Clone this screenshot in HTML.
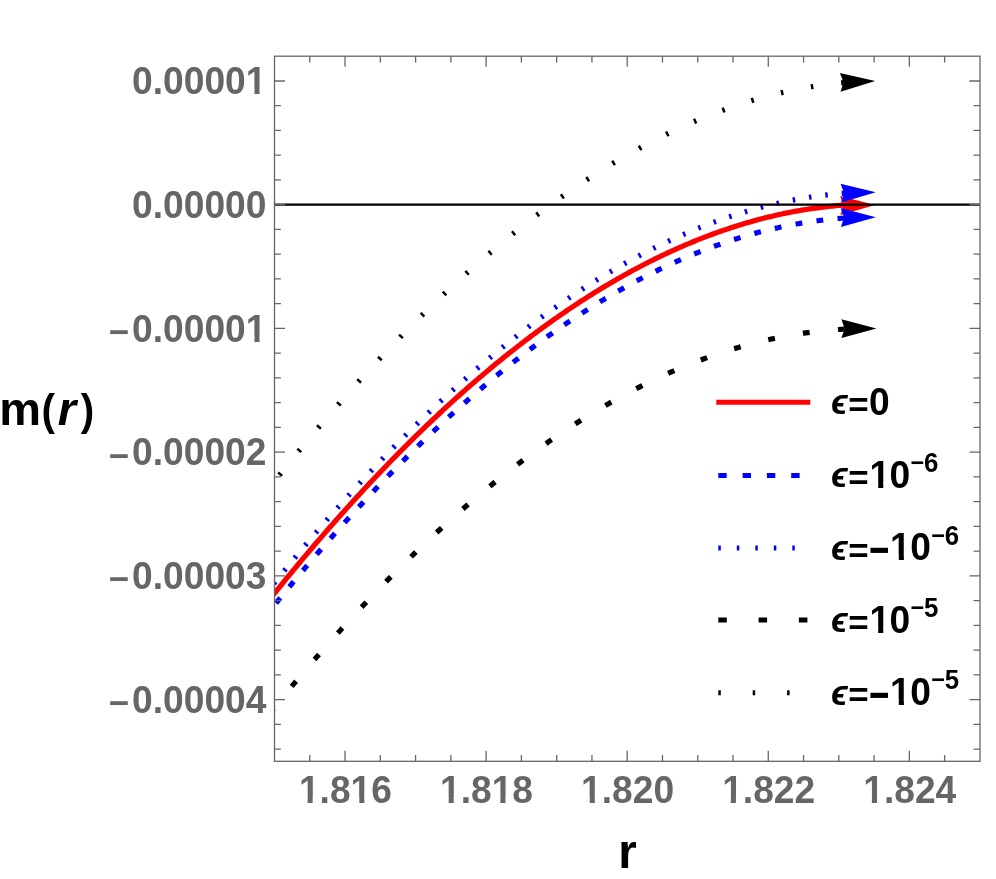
<!DOCTYPE html>
<html><head><meta charset="utf-8"><title>plot</title>
<style>html,body{margin:0;padding:0;background:#fff}body{width:996px;height:879px;overflow:hidden;font-family:"Liberation Sans",sans-serif}</style></head>
<body>
<svg width="996" height="879" viewBox="0 0 996 879" style="display:block;will-change:transform;font-family:'Liberation Sans',sans-serif;font-weight:bold;font-kerning:none">
<rect width="996" height="879" fill="#fff"/>
<defs><clipPath id="c"><rect x="274.5" y="56.2" width="705.5" height="705.0999999999999"/></clipPath></defs>
<g clip-path="url(#c)" fill="none" stroke-width="5.2">
<path d="M272.50,595.80 L274.42,593.41 L276.34,591.03 L278.25,588.65 L280.17,586.29 L282.09,583.92 L284.01,581.57 L285.93,579.22 L287.84,576.88 L289.76,574.54 L291.68,572.22 L293.60,569.89 L295.52,567.58 L297.43,565.27 L299.35,562.97 L301.27,560.67 L303.19,558.39 L305.11,556.11 L307.03,553.83 L308.94,551.56 L310.86,549.30 L312.78,547.05 L314.70,544.80 L316.62,542.56 L318.53,540.32 L320.45,538.10 L322.37,535.88 L324.29,533.66 L326.21,531.46 L328.12,529.26 L330.04,527.06 L331.96,524.88 L333.88,522.70 L335.80,520.52 L337.71,518.36 L339.63,516.20 L341.55,514.05 L343.47,511.90 L345.39,509.76 L347.30,507.63 L349.22,505.51 L351.14,503.39 L353.06,501.28 L354.98,499.17 L356.89,497.08 L358.81,494.99 L360.73,492.90 L362.65,490.83 L364.57,488.76 L366.48,486.70 L368.40,484.64 L370.32,482.59 L372.24,480.55 L374.16,478.51 L376.08,476.49 L377.99,474.47 L379.91,472.45 L381.83,470.45 L383.75,468.45 L385.67,466.45 L387.58,464.47 L389.50,462.49 L391.42,460.52 L393.34,458.55 L395.26,456.59 L397.17,454.64 L399.09,452.70 L401.01,450.76 L402.93,448.83 L404.85,446.91 L406.76,444.99 L408.68,443.09 L410.60,441.18 L412.52,439.29 L414.44,437.40 L416.35,435.52 L418.27,433.65 L420.19,431.78 L422.11,429.92 L424.03,428.07 L425.94,426.23 L427.86,424.39 L429.78,422.56 L431.70,420.74 L433.62,418.92 L435.54,417.11 L437.45,415.31 L439.37,413.52 L441.29,411.73 L443.21,409.95 L445.13,408.18 L447.04,406.41 L448.96,404.65 L450.88,402.90 L452.80,401.16 L454.72,399.42 L456.63,397.69 L458.55,395.97 L460.47,394.25 L462.39,392.54 L464.31,390.84 L466.22,389.15 L468.14,387.46 L470.06,385.78 L471.98,384.11 L473.90,382.45 L475.81,380.79 L477.73,379.14 L479.65,377.50 L481.57,375.86 L483.49,374.24 L485.40,372.62 L487.32,371.00 L489.24,369.40 L491.16,367.80 L493.08,366.21 L494.99,364.62 L496.91,363.05 L498.83,361.48 L500.75,359.92 L502.67,358.36 L504.59,356.81 L506.50,355.27 L508.42,353.74 L510.34,352.22 L512.26,350.70 L514.18,349.19 L516.09,347.69 L518.01,346.19 L519.93,344.70 L521.85,343.22 L523.77,341.75 L525.68,340.28 L527.60,338.83 L529.52,337.38 L531.44,335.93 L533.36,334.50 L535.27,333.07 L537.19,331.65 L539.11,330.24 L541.03,328.83 L542.95,327.43 L544.86,326.04 L546.78,324.66 L548.70,323.28 L550.62,321.91 L552.54,320.55 L554.45,319.20 L556.37,317.85 L558.29,316.52 L560.21,315.19 L562.13,313.86 L564.05,312.55 L565.96,311.24 L567.88,309.94 L569.80,308.65 L571.72,307.36 L573.64,306.09 L575.55,304.82 L577.47,303.55 L579.39,302.30 L581.31,301.05 L583.23,299.81 L585.14,298.58 L587.06,297.36 L588.98,296.14 L590.90,294.93 L592.82,293.73 L594.73,292.54 L596.65,291.35 L598.57,290.18 L600.49,289.01 L602.41,287.84 L604.32,286.69 L606.24,285.54 L608.16,284.40 L610.08,283.27 L612.00,282.15 L613.91,281.03 L615.83,279.92 L617.75,278.82 L619.67,277.73 L621.59,276.64 L623.51,275.57 L625.42,274.50 L627.34,273.43 L629.26,272.38 L631.18,271.33 L633.10,270.30 L635.01,269.26 L636.93,268.24 L638.85,267.23 L640.77,266.22 L642.69,265.22 L644.60,264.23 L646.52,263.24 L648.44,262.27 L650.36,261.30 L652.28,260.34 L654.19,259.39 L656.11,258.44 L658.03,257.51 L659.95,256.58 L661.87,255.66 L663.78,254.74 L665.70,253.84 L667.62,252.94 L669.54,252.05 L671.46,251.17 L673.37,250.30 L675.29,249.43 L677.21,248.58 L679.13,247.73 L681.05,246.88 L682.96,246.05 L684.88,245.22 L686.80,244.41 L688.72,243.60 L690.64,242.80 L692.56,242.00 L694.47,241.22 L696.39,240.44 L698.31,239.67 L700.23,238.91 L702.15,238.15 L704.06,237.41 L705.98,236.67 L707.90,235.94 L709.82,235.22 L711.74,234.50 L713.65,233.80 L715.57,233.10 L717.49,232.41 L719.41,231.73 L721.33,231.06 L723.24,230.39 L725.16,229.74 L727.08,229.09 L729.00,228.45 L730.92,227.81 L732.83,227.19 L734.75,226.57 L736.67,225.96 L738.59,225.36 L740.51,224.77 L742.42,224.19 L744.34,223.61 L746.26,223.04 L748.18,222.48 L750.10,221.93 L752.02,221.39 L753.93,220.85 L755.85,220.33 L757.77,219.81 L759.69,219.30 L761.61,218.80 L763.52,218.30 L765.44,217.82 L767.36,217.34 L769.28,216.87 L771.20,216.41 L773.11,215.96 L775.03,215.51 L776.95,215.08 L778.87,214.65 L780.79,214.23 L782.70,213.82 L784.62,213.41 L786.54,213.02 L788.46,212.63 L790.38,212.25 L792.29,211.88 L794.21,211.52 L796.13,211.17 L798.05,210.82 L799.97,210.49 L801.88,210.16 L803.80,209.84 L805.72,209.53 L807.64,209.22 L809.56,208.93 L811.47,208.64 L813.39,208.37 L815.31,208.10 L817.23,207.83 L819.15,207.58 L821.07,207.34 L822.98,207.10 L824.90,206.87 L826.82,206.65 L828.74,206.44 L830.66,206.24 L832.57,206.05 L834.49,205.86 L836.41,205.68 L838.33,205.52 L840.25,205.36 L842.16,205.20 L844.08,205.06 L846.00,204.93" stroke="#f00"/>
<path d="M272.50,607.49 L274.42,605.11 L276.34,602.74 L278.25,600.37 L280.17,598.01 L282.09,595.66 L284.01,593.31 L285.93,590.97 L287.84,588.64 L289.76,586.31 L291.68,583.99 L293.60,581.68 L295.52,579.37 L297.43,577.07 L299.35,574.78 L301.27,572.49 L303.19,570.21 L305.11,567.94 L307.03,565.67 L308.94,563.41 L310.86,561.16 L312.78,558.91 L314.70,556.67 L316.62,554.44 L318.53,552.21 L320.45,549.99 L322.37,547.78 L324.29,545.57 L326.21,543.37 L328.12,541.18 L330.04,538.99 L331.96,536.81 L333.88,534.64 L335.80,532.48 L337.71,530.32 L339.63,528.16 L341.55,526.02 L343.47,523.88 L345.39,521.75 L347.30,519.62 L349.22,517.50 L351.14,515.39 L353.06,513.29 L354.98,511.19 L356.89,509.10 L358.81,507.02 L360.73,504.94 L362.65,502.87 L364.57,500.81 L366.48,498.75 L368.40,496.70 L370.32,494.66 L372.24,492.62 L374.16,490.59 L376.08,488.57 L377.99,486.55 L379.91,484.55 L381.83,482.55 L383.75,480.55 L385.67,478.56 L387.58,476.58 L389.50,474.61 L391.42,472.64 L393.34,470.68 L395.26,468.73 L397.17,466.79 L399.09,464.85 L401.01,462.92 L402.93,460.99 L404.85,459.07 L406.76,457.16 L408.68,455.26 L410.60,453.36 L412.52,451.47 L414.44,449.59 L416.35,447.72 L418.27,445.85 L420.19,443.99 L422.11,442.13 L424.03,440.29 L425.94,438.45 L427.86,436.61 L429.78,434.79 L431.70,432.97 L433.62,431.16 L435.54,429.35 L437.45,427.56 L439.37,425.77 L441.29,423.98 L443.21,422.21 L445.13,420.44 L447.04,418.68 L448.96,416.92 L450.88,415.17 L452.80,413.43 L454.72,411.70 L456.63,409.98 L458.55,408.26 L460.47,406.55 L462.39,404.84 L464.31,403.15 L466.22,401.46 L468.14,399.77 L470.06,398.10 L471.98,396.43 L473.90,394.77 L475.81,393.12 L477.73,391.47 L479.65,389.83 L481.57,388.20 L483.49,386.58 L485.40,384.96 L487.32,383.35 L489.24,381.75 L491.16,380.15 L493.08,378.56 L494.99,376.98 L496.91,375.41 L498.83,373.85 L500.75,372.29 L502.67,370.74 L504.59,369.19 L506.50,367.66 L508.42,366.13 L510.34,364.61 L512.26,363.09 L514.18,361.58 L516.09,360.08 L518.01,358.59 L519.93,357.11 L521.85,355.63 L523.77,354.16 L525.68,352.70 L527.60,351.24 L529.52,349.80 L531.44,348.36 L533.36,346.92 L535.27,345.50 L537.19,344.08 L539.11,342.67 L541.03,341.27 L542.95,339.87 L544.86,338.49 L546.78,337.11 L548.70,335.73 L550.62,334.37 L552.54,333.01 L554.45,331.66 L556.37,330.32 L558.29,328.98 L560.21,327.66 L562.13,326.34 L564.05,325.02 L565.96,323.72 L567.88,322.42 L569.80,321.13 L571.72,319.85 L573.64,318.57 L575.55,317.31 L577.47,316.05 L579.39,314.80 L581.31,313.55 L583.23,312.32 L585.14,311.09 L587.06,309.87 L588.98,308.65 L590.90,307.45 L592.82,306.25 L594.73,305.06 L596.65,303.88 L598.57,302.70 L600.49,301.53 L602.41,300.37 L604.32,299.22 L606.24,298.08 L608.16,296.94 L610.08,295.81 L612.00,294.69 L613.91,293.58 L615.83,292.47 L617.75,291.38 L619.67,290.28 L621.59,289.20 L623.51,288.13 L625.42,287.06 L627.34,286.00 L629.26,284.95 L631.18,283.91 L633.10,282.87 L635.01,281.84 L636.93,280.82 L638.85,279.81 L640.77,278.81 L642.69,277.81 L644.60,276.82 L646.52,275.84 L648.44,274.87 L650.36,273.90 L652.28,272.95 L654.19,272.00 L656.11,271.05 L658.03,270.12 L659.95,269.20 L661.87,268.28 L663.78,267.37 L665.70,266.47 L667.62,265.57 L669.54,264.69 L671.46,263.81 L673.37,262.94 L675.29,262.07 L677.21,261.22 L679.13,260.37 L681.05,259.53 L682.96,258.70 L684.88,257.88 L686.80,257.07 L688.72,256.26 L690.64,255.46 L692.56,254.67 L694.47,253.89 L696.39,253.11 L698.31,252.35 L700.23,251.59 L702.15,250.84 L704.06,250.10 L705.98,249.36 L707.90,248.64 L709.82,247.92 L711.74,247.21 L713.65,246.51 L715.57,245.81 L717.49,245.13 L719.41,244.45 L721.33,243.78 L723.24,243.12 L725.16,242.46 L727.08,241.82 L729.00,241.18 L730.92,240.55 L732.83,239.93 L734.75,239.32 L736.67,238.71 L738.59,238.12 L740.51,237.53 L742.42,236.95 L744.34,236.38 L746.26,235.81 L748.18,235.26 L750.10,234.71 L752.02,234.17 L753.93,233.64 L755.85,233.12 L757.77,232.60 L759.69,232.10 L761.61,231.60 L763.52,231.11 L765.44,230.63 L767.36,230.16 L769.28,229.69 L771.20,229.23 L773.11,228.79 L775.03,228.35 L776.95,227.91 L778.87,227.49 L780.79,227.08 L782.70,226.67 L784.62,226.27 L786.54,225.88 L788.46,225.50 L790.38,225.12 L792.29,224.76 L794.21,224.40 L796.13,224.05 L798.05,223.71 L799.97,223.38 L801.88,223.06 L803.80,222.74 L805.72,222.44 L807.64,222.14 L809.56,221.85 L811.47,221.57 L813.39,221.30 L815.31,221.03 L817.23,220.78 L819.15,220.53 L821.07,220.29 L822.98,220.06 L824.90,219.84 L826.82,219.62 L828.74,219.42 L830.66,219.22 L832.57,219.03 L834.49,218.85 L836.41,218.68 L838.33,218.52 L840.25,218.37 L842.16,218.22 L844.08,218.08 L846.00,217.95" stroke="#00f" stroke-dasharray="6.8 14.370" stroke-dashoffset="15.646"/>
<path d="M272.50,585.31 L274.42,582.91 L276.34,580.52 L278.25,578.14 L280.17,575.76 L282.09,573.39 L284.01,571.03 L285.93,568.67 L287.84,566.32 L289.76,563.98 L291.68,561.64 L293.60,559.31 L295.52,556.99 L297.43,554.67 L299.35,552.36 L301.27,550.06 L303.19,547.76 L305.11,545.47 L307.03,543.19 L308.94,540.91 L310.86,538.65 L312.78,536.38 L314.70,534.13 L316.62,531.88 L318.53,529.64 L320.45,527.40 L322.37,525.18 L324.29,522.96 L326.21,520.74 L328.12,518.53 L330.04,516.33 L331.96,514.14 L333.88,511.95 L335.80,509.77 L337.71,507.60 L339.63,505.44 L341.55,503.28 L343.47,501.12 L345.39,498.98 L347.30,496.84 L349.22,494.71 L351.14,492.59 L353.06,490.47 L354.98,488.36 L356.89,486.25 L358.81,484.16 L360.73,482.07 L362.65,479.99 L364.57,477.91 L366.48,475.84 L368.40,473.78 L370.32,471.73 L372.24,469.68 L374.16,467.64 L376.08,465.60 L377.99,463.58 L379.91,461.56 L381.83,459.54 L383.75,457.54 L385.67,455.54 L387.58,453.55 L389.50,451.57 L391.42,449.59 L393.34,447.62 L395.26,445.65 L397.17,443.70 L399.09,441.75 L401.01,439.81 L402.93,437.87 L404.85,435.95 L406.76,434.02 L408.68,432.11 L410.60,430.21 L412.52,428.31 L414.44,426.41 L416.35,424.53 L418.27,422.65 L420.19,420.78 L422.11,418.92 L424.03,417.06 L425.94,415.21 L427.86,413.37 L429.78,411.53 L431.70,409.71 L433.62,407.89 L435.54,406.07 L437.45,404.27 L439.37,402.47 L441.29,400.68 L443.21,398.89 L445.13,397.12 L447.04,395.35 L448.96,393.58 L450.88,391.83 L452.80,390.08 L454.72,388.34 L456.63,386.60 L458.55,384.88 L460.47,383.16 L462.39,381.45 L464.31,379.74 L466.22,378.04 L468.14,376.35 L470.06,374.67 L471.98,373.00 L473.90,371.33 L475.81,369.67 L477.73,368.01 L479.65,366.37 L481.57,364.73 L483.49,363.10 L485.40,361.47 L487.32,359.86 L489.24,358.25 L491.16,356.64 L493.08,355.05 L494.99,353.46 L496.91,351.88 L498.83,350.31 L500.75,348.74 L502.67,347.19 L504.59,345.64 L506.50,344.09 L508.42,342.56 L510.34,341.03 L512.26,339.51 L514.18,337.99 L516.09,336.49 L518.01,334.99 L519.93,333.50 L521.85,332.02 L523.77,330.54 L525.68,329.07 L527.60,327.61 L529.52,326.16 L531.44,324.71 L533.36,323.27 L535.27,321.84 L537.19,320.42 L539.11,319.00 L541.03,317.59 L542.95,316.19 L544.86,314.80 L546.78,313.41 L548.70,312.03 L550.62,310.66 L552.54,309.30 L554.45,307.94 L556.37,306.59 L558.29,305.25 L560.21,303.92 L562.13,302.59 L564.05,301.27 L565.96,299.96 L567.88,298.66 L569.80,297.37 L571.72,296.08 L573.64,294.80 L575.55,293.52 L577.47,292.26 L579.39,291.00 L581.31,289.75 L583.23,288.51 L585.14,287.28 L587.06,286.05 L588.98,284.83 L590.90,283.62 L592.82,282.42 L594.73,281.22 L596.65,280.03 L598.57,278.85 L600.49,277.68 L602.41,276.51 L604.32,275.35 L606.24,274.20 L608.16,273.06 L610.08,271.93 L612.00,270.80 L613.91,269.68 L615.83,268.57 L617.75,267.47 L619.67,266.37 L621.59,265.28 L623.51,264.20 L625.42,263.13 L627.34,262.07 L629.26,261.01 L631.18,259.96 L633.10,258.92 L635.01,257.89 L636.93,256.86 L638.85,255.84 L640.77,254.83 L642.69,253.83 L644.60,252.83 L646.52,251.85 L648.44,250.87 L650.36,249.90 L652.28,248.93 L654.19,247.98 L656.11,247.03 L658.03,246.09 L659.95,245.16 L661.87,244.24 L663.78,243.32 L665.70,242.41 L667.62,241.51 L669.54,240.62 L671.46,239.74 L673.37,238.86 L675.29,237.99 L677.21,237.13 L679.13,236.28 L681.05,235.43 L682.96,234.60 L684.88,233.77 L686.80,232.95 L688.72,232.13 L690.64,231.33 L692.56,230.53 L694.47,229.74 L696.39,228.96 L698.31,228.19 L700.23,227.42 L702.15,226.67 L704.06,225.92 L705.98,225.18 L707.90,224.44 L709.82,223.72 L711.74,223.00 L713.65,222.29 L715.57,221.59 L717.49,220.90 L719.41,220.21 L721.33,219.54 L723.24,218.87 L725.16,218.21 L727.08,217.55 L729.00,216.91 L730.92,216.27 L732.83,215.64 L734.75,215.02 L736.67,214.41 L738.59,213.81 L740.51,213.21 L742.42,212.62 L744.34,212.04 L746.26,211.47 L748.18,210.91 L750.10,210.35 L752.02,209.81 L753.93,209.27 L755.85,208.74 L757.77,208.21 L759.69,207.70 L761.61,207.19 L763.52,206.70 L765.44,206.21 L767.36,205.72 L769.28,205.25 L771.20,204.78 L773.11,204.33 L775.03,203.88 L776.95,203.44 L778.87,203.01 L780.79,202.58 L782.70,202.17 L784.62,201.76 L786.54,201.36 L788.46,200.97 L790.38,200.58 L792.29,200.21 L794.21,199.84 L796.13,199.48 L798.05,199.13 L799.97,198.79 L801.88,198.46 L803.80,198.13 L805.72,197.82 L807.64,197.51 L809.56,197.21 L811.47,196.92 L813.39,196.63 L815.31,196.36 L817.23,196.09 L819.15,195.83 L821.07,195.58 L822.98,195.34 L824.90,195.11 L826.82,194.88 L828.74,194.67 L830.66,194.46 L832.57,194.26 L834.49,194.07 L836.41,193.89 L838.33,193.71 L840.25,193.55 L842.16,193.39 L844.08,193.24 L846.00,193.10" stroke="#00f" stroke-dasharray="2.5 13.955" stroke-dashoffset="14.317"/>
<path d="M272.50,709.81 L274.42,707.44 L276.34,705.09 L278.25,702.74 L280.17,700.39 L282.09,698.05 L284.01,695.72 L285.93,693.40 L287.84,691.08 L289.76,688.77 L291.68,686.47 L293.60,684.18 L295.52,681.89 L297.43,679.60 L299.35,677.33 L301.27,675.06 L303.19,672.80 L305.11,670.54 L307.03,668.29 L308.94,666.05 L310.86,663.82 L312.78,661.59 L314.70,659.37 L316.62,657.15 L318.53,654.95 L320.45,652.75 L322.37,650.55 L324.29,648.37 L326.21,646.19 L328.12,644.01 L330.04,641.85 L331.96,639.69 L333.88,637.54 L335.80,635.39 L337.71,633.25 L339.63,631.12 L341.55,629.00 L343.47,626.88 L345.39,624.77 L347.30,622.67 L349.22,620.57 L351.14,618.48 L353.06,616.40 L354.98,614.32 L356.89,612.25 L358.81,610.19 L360.73,608.14 L362.65,606.09 L364.57,604.05 L366.48,602.01 L368.40,599.99 L370.32,597.97 L372.24,595.96 L374.16,593.95 L376.08,591.95 L377.99,589.96 L379.91,587.98 L381.83,586.00 L383.75,584.03 L385.67,582.07 L387.58,580.11 L389.50,578.16 L391.42,576.22 L393.34,574.29 L395.26,572.36 L397.17,570.44 L399.09,568.52 L401.01,566.62 L402.93,564.72 L404.85,562.83 L406.76,560.94 L408.68,559.06 L410.60,557.19 L412.52,555.33 L414.44,553.47 L416.35,551.62 L418.27,549.78 L420.19,547.95 L422.11,546.12 L424.03,544.30 L425.94,542.49 L427.86,540.68 L429.78,538.88 L431.70,537.09 L433.62,535.31 L435.54,533.53 L437.45,531.76 L439.37,530.00 L441.29,528.24 L443.21,526.49 L445.13,524.75 L447.04,523.02 L448.96,521.29 L450.88,519.57 L452.80,517.86 L454.72,516.16 L456.63,514.46 L458.55,512.77 L460.47,511.09 L462.39,509.41 L464.31,507.75 L466.22,506.08 L468.14,504.43 L470.06,502.79 L471.98,501.15 L473.90,499.52 L475.81,497.89 L477.73,496.28 L479.65,494.67 L481.57,493.06 L483.49,491.47 L485.40,489.88 L487.32,488.30 L489.24,486.73 L491.16,485.17 L493.08,483.61 L494.99,482.06 L496.91,480.51 L498.83,478.98 L500.75,477.45 L502.67,475.93 L504.59,474.42 L506.50,472.91 L508.42,471.41 L510.34,469.92 L512.26,468.44 L514.18,466.96 L516.09,465.50 L518.01,464.04 L519.93,462.58 L521.85,461.14 L523.77,459.70 L525.68,458.27 L527.60,456.84 L529.52,455.43 L531.44,454.02 L533.36,452.62 L535.27,451.23 L537.19,449.84 L539.11,448.46 L541.03,447.09 L542.95,445.73 L544.86,444.37 L546.78,443.02 L548.70,441.68 L550.62,440.35 L552.54,439.03 L554.45,437.71 L556.37,436.40 L558.29,435.09 L560.21,433.80 L562.13,432.51 L564.05,431.23 L565.96,429.96 L567.88,428.70 L569.80,427.44 L571.72,426.19 L573.64,424.95 L575.55,423.71 L577.47,422.49 L579.39,421.27 L581.31,420.06 L583.23,418.86 L585.14,417.66 L587.06,416.47 L588.98,415.29 L590.90,414.12 L592.82,412.95 L594.73,411.80 L596.65,410.65 L598.57,409.51 L600.49,408.37 L602.41,407.25 L604.32,406.13 L606.24,405.02 L608.16,403.91 L610.08,402.82 L612.00,401.73 L613.91,400.65 L615.83,399.58 L617.75,398.52 L619.67,397.46 L621.59,396.41 L623.51,395.37 L625.42,394.34 L627.34,393.31 L629.26,392.29 L631.18,391.28 L633.10,390.28 L635.01,389.29 L636.93,388.30 L638.85,387.32 L640.77,386.35 L642.69,385.39 L644.60,384.44 L646.52,383.49 L648.44,382.55 L650.36,381.62 L652.28,380.70 L654.19,379.78 L656.11,378.87 L658.03,377.97 L659.95,377.08 L661.87,376.20 L663.78,375.32 L665.70,374.45 L667.62,373.59 L669.54,372.74 L671.46,371.90 L673.37,371.06 L675.29,370.23 L677.21,369.41 L679.13,368.60 L681.05,367.80 L682.96,367.00 L684.88,366.21 L686.80,365.43 L688.72,364.66 L690.64,363.89 L692.56,363.14 L694.47,362.39 L696.39,361.65 L698.31,360.92 L700.23,360.19 L702.15,359.48 L704.06,358.77 L705.98,358.07 L707.90,357.38 L709.82,356.69 L711.74,356.01 L713.65,355.35 L715.57,354.69 L717.49,354.03 L719.41,353.39 L721.33,352.76 L723.24,352.13 L725.16,351.51 L727.08,350.90 L729.00,350.29 L730.92,349.70 L732.83,349.11 L734.75,348.53 L736.67,347.96 L738.59,347.40 L740.51,346.84 L742.42,346.30 L744.34,345.76 L746.26,345.23 L748.18,344.71 L750.10,344.19 L752.02,343.69 L753.93,343.19 L755.85,342.70 L757.77,342.22 L759.69,341.75 L761.61,341.28 L763.52,340.83 L765.44,340.38 L767.36,339.94 L769.28,339.51 L771.20,339.08 L773.11,338.67 L775.03,338.26 L776.95,337.86 L778.87,337.47 L780.79,337.09 L782.70,336.71 L784.62,336.35 L786.54,335.99 L788.46,335.64 L790.38,335.30 L792.29,334.97 L794.21,334.65 L796.13,334.33 L798.05,334.02 L799.97,333.72 L801.88,333.43 L803.80,333.15 L805.72,332.87 L807.64,332.61 L809.56,332.35 L811.47,332.10 L813.39,331.86 L815.31,331.63 L817.23,331.40 L819.15,331.19 L821.07,330.98 L822.98,330.78 L824.90,330.59 L826.82,330.41 L828.74,330.24 L830.66,330.07 L832.57,329.91 L834.49,329.77 L836.41,329.63 L838.33,329.49 L840.25,329.37 L842.16,329.26 L844.08,329.15 L846.00,329.05" stroke="#000" stroke-dasharray="6.8 28.467" stroke-dashoffset="5.030"/>
<path d="M272.50,483.74 L274.42,481.32 L276.34,478.90 L278.25,476.49 L280.17,474.09 L282.09,471.69 L284.01,469.30 L285.93,466.92 L287.84,464.54 L289.76,462.17 L291.68,459.81 L293.60,457.45 L295.52,455.10 L297.43,452.76 L299.35,450.42 L301.27,448.09 L303.19,445.77 L305.11,443.45 L307.03,441.14 L308.94,438.84 L310.86,436.54 L312.78,434.25 L314.70,431.97 L316.62,429.69 L318.53,427.43 L320.45,425.16 L322.37,422.91 L324.29,420.66 L326.21,418.42 L328.12,416.18 L330.04,413.95 L331.96,411.73 L333.88,409.52 L335.80,407.31 L337.71,405.11 L339.63,402.92 L341.55,400.73 L343.47,398.55 L345.39,396.38 L347.30,394.21 L349.22,392.05 L351.14,389.90 L353.06,387.75 L354.98,385.61 L356.89,383.48 L358.81,381.35 L360.73,379.24 L362.65,377.13 L364.57,375.02 L366.48,372.92 L368.40,370.83 L370.32,368.75 L372.24,366.67 L374.16,364.60 L376.08,362.54 L377.99,360.49 L379.91,358.44 L381.83,356.40 L383.75,354.36 L385.67,352.33 L387.58,350.31 L389.50,348.30 L391.42,346.29 L393.34,344.29 L395.26,342.30 L397.17,340.31 L399.09,338.34 L401.01,336.36 L402.93,334.40 L404.85,332.44 L406.76,330.49 L408.68,328.55 L410.60,326.61 L412.52,324.68 L414.44,322.76 L416.35,320.85 L418.27,318.94 L420.19,317.04 L422.11,315.15 L424.03,313.26 L425.94,311.38 L427.86,309.51 L429.78,307.64 L431.70,305.79 L433.62,303.94 L435.54,302.09 L437.45,300.26 L439.37,298.43 L441.29,296.60 L443.21,294.79 L445.13,292.98 L447.04,291.18 L448.96,289.39 L450.88,287.60 L452.80,285.82 L454.72,284.05 L456.63,282.29 L458.55,280.53 L460.47,278.78 L462.39,277.04 L464.31,275.30 L466.22,273.57 L468.14,271.85 L470.06,270.14 L471.98,268.43 L473.90,266.73 L475.81,265.04 L477.73,263.36 L479.65,261.68 L481.57,260.01 L483.49,258.35 L485.40,256.69 L487.32,255.05 L489.24,253.41 L491.16,251.77 L493.08,250.15 L494.99,248.53 L496.91,246.92 L498.83,245.31 L500.75,243.72 L502.67,242.13 L504.59,240.55 L506.50,238.97 L508.42,237.40 L510.34,235.84 L512.26,234.29 L514.18,232.75 L516.09,231.21 L518.01,229.68 L519.93,228.16 L521.85,226.64 L523.77,225.14 L525.68,223.63 L527.60,222.14 L529.52,220.66 L531.44,219.18 L533.36,217.71 L535.27,216.25 L537.19,214.79 L539.11,213.34 L541.03,211.90 L542.95,210.47 L544.86,209.04 L546.78,207.63 L548.70,206.22 L550.62,204.81 L552.54,203.42 L554.45,202.03 L556.37,200.65 L558.29,199.28 L560.21,197.91 L562.13,196.55 L564.05,195.21 L565.96,193.86 L567.88,192.53 L569.80,191.20 L571.72,189.88 L573.64,188.57 L575.55,187.26 L577.47,185.97 L579.39,184.68 L581.31,183.40 L583.23,182.12 L585.14,180.86 L587.06,179.60 L588.98,178.35 L590.90,177.10 L592.82,175.87 L594.73,174.64 L596.65,173.42 L598.57,172.21 L600.49,171.00 L602.41,169.80 L604.32,168.61 L606.24,167.43 L608.16,166.26 L610.08,165.09 L612.00,163.93 L613.91,162.78 L615.83,161.64 L617.75,160.50 L619.67,159.38 L621.59,158.26 L623.51,157.14 L625.42,156.04 L627.34,154.94 L629.26,153.85 L631.18,152.77 L633.10,151.70 L635.01,150.63 L636.93,149.57 L638.85,148.52 L640.77,147.48 L642.69,146.45 L644.60,145.42 L646.52,144.40 L648.44,143.39 L650.36,142.39 L652.28,141.39 L654.19,140.41 L656.11,139.43 L658.03,138.46 L659.95,137.49 L661.87,136.54 L663.78,135.59 L665.70,134.65 L667.62,133.71 L669.54,132.79 L671.46,131.87 L673.37,130.97 L675.29,130.07 L677.21,129.17 L679.13,128.29 L681.05,127.41 L682.96,126.54 L684.88,125.68 L686.80,124.83 L688.72,123.98 L690.64,123.15 L692.56,122.32 L694.47,121.50 L696.39,120.68 L698.31,119.88 L700.23,119.08 L702.15,118.29 L704.06,117.51 L705.98,116.74 L707.90,115.97 L709.82,115.22 L711.74,114.47 L713.65,113.73 L715.57,112.99 L717.49,112.27 L719.41,111.55 L721.33,110.84 L723.24,110.14 L725.16,109.45 L727.08,108.77 L729.00,108.09 L730.92,107.42 L732.83,106.76 L734.75,106.11 L736.67,105.47 L738.59,104.83 L740.51,104.20 L742.42,103.58 L744.34,102.97 L746.26,102.37 L748.18,101.77 L750.10,101.19 L752.02,100.61 L753.93,100.04 L755.85,99.48 L757.77,98.92 L759.69,98.38 L761.61,97.84 L763.52,97.31 L765.44,96.79 L767.36,96.27 L769.28,95.77 L771.20,95.27 L773.11,94.78 L775.03,94.30 L776.95,93.83 L778.87,93.37 L780.79,92.91 L782.70,92.46 L784.62,92.03 L786.54,91.60 L788.46,91.17 L790.38,90.76 L792.29,90.35 L794.21,89.96 L796.13,89.57 L798.05,89.19 L799.97,88.81 L801.88,88.45 L803.80,88.09 L805.72,87.75 L807.64,87.41 L809.56,87.08 L811.47,86.75 L813.39,86.44 L815.31,86.13 L817.23,85.84 L819.15,85.55 L821.07,85.27 L822.98,84.99 L824.90,84.73 L826.82,84.47 L828.74,84.23 L830.66,83.99 L832.57,83.76 L834.49,83.54 L836.41,83.32 L838.33,83.12 L840.25,82.92 L842.16,82.73 L844.08,82.55 L846.00,82.38" stroke="#000" stroke-dasharray="2.5 28.067" stroke-dashoffset="19.648"/>
</g>
<path d="M0,0 L-35,-9.4 L-31.7,0 L-35,9.4 Z" fill="#f00" transform="translate(875.2,204.9) rotate(-1)"/>
<path d="M0,0 L-35,-9.4 L-31.7,0 L-35,9.4 Z" fill="#00f" transform="translate(875.8,217.2) rotate(-0.5)"/>
<path d="M0,0 L-35,-9.4 L-31.7,0 L-35,9.4 Z" fill="#00f" transform="translate(875.8,192.3) rotate(-1.5)"/>
<path d="M0,0 L-35,-9.4 L-31.7,0 L-35,9.4 Z" fill="#000" transform="translate(876.4,328.6) rotate(-0.2)"/>
<path d="M0,0 L-35,-9.4 L-31.7,0 L-35,9.4 Z" fill="#000" transform="translate(875.2,81.1) rotate(-2)"/>
<line x1="274.5" x2="980.0" y1="204.6" y2="204.6" stroke="#000" stroke-width="2.2"/>
<g stroke="#666" stroke-width="1.3" fill="none">
<rect x="274.5" y="56.2" width="705.5" height="705.0999999999999"/>
<path d="M309.77,761.3v-6.4M309.77,56.2v6.4M345.04,761.3v-10.5M345.04,56.2v10.5M380.31,761.3v-6.4M380.31,56.2v6.4M415.58,761.3v-6.4M415.58,56.2v6.4M450.85,761.3v-6.4M450.85,56.2v6.4M486.12,761.3v-10.5M486.12,56.2v10.5M521.39,761.3v-6.4M521.39,56.2v6.4M556.66,761.3v-6.4M556.66,56.2v6.4M591.93,761.3v-6.4M591.93,56.2v6.4M627.20,761.3v-10.5M627.20,56.2v10.5M662.47,761.3v-6.4M662.47,56.2v6.4M697.74,761.3v-6.4M697.74,56.2v6.4M733.01,761.3v-6.4M733.01,56.2v6.4M768.28,761.3v-10.5M768.28,56.2v10.5M803.55,761.3v-6.4M803.55,56.2v6.4M838.82,761.3v-6.4M838.82,56.2v6.4M874.09,761.3v-6.4M874.09,56.2v6.4M909.36,761.3v-10.5M909.36,56.2v10.5M944.63,761.3v-6.4M944.63,56.2v6.4M274.5,749.07h6.4M980.0,749.07h-6.4M274.5,724.32h6.4M980.0,724.32h-6.4M274.5,699.58h10.5M980.0,699.58h-10.5M274.5,674.84h6.4M980.0,674.84h-6.4M274.5,650.09h6.4M980.0,650.09h-6.4M274.5,625.35h6.4M980.0,625.35h-6.4M274.5,600.60h6.4M980.0,600.60h-6.4M274.5,575.86h10.5M980.0,575.86h-10.5M274.5,551.12h6.4M980.0,551.12h-6.4M274.5,526.37h6.4M980.0,526.37h-6.4M274.5,501.63h6.4M980.0,501.63h-6.4M274.5,476.88h6.4M980.0,476.88h-6.4M274.5,452.14h10.5M980.0,452.14h-10.5M274.5,427.40h6.4M980.0,427.40h-6.4M274.5,402.65h6.4M980.0,402.65h-6.4M274.5,377.91h6.4M980.0,377.91h-6.4M274.5,353.16h6.4M980.0,353.16h-6.4M274.5,328.42h10.5M980.0,328.42h-10.5M274.5,303.68h6.4M980.0,303.68h-6.4M274.5,278.93h6.4M980.0,278.93h-6.4M274.5,254.19h6.4M980.0,254.19h-6.4M274.5,229.44h6.4M980.0,229.44h-6.4M274.5,204.70h10.5M980.0,204.70h-10.5M274.5,179.96h6.4M980.0,179.96h-6.4M274.5,155.21h6.4M980.0,155.21h-6.4M274.5,130.47h6.4M980.0,130.47h-6.4M274.5,105.72h6.4M980.0,105.72h-6.4M274.5,80.98h10.5M980.0,80.98h-10.5"/>
</g>
<g fill="#666" style="filter:grayscale(1)">
<g transform="translate(132.03,94.08) scale(1,1.045)"><text font-size="37.2">0.00001</text><rect x="115.12" y="-4.80" width="7.34" height="5.70" fill="#fff"/><rect x="127.57" y="-4.80" width="6.87" height="5.70" fill="#fff"/></g>
<g transform="translate(132.03,217.80) scale(1,1.045)"><text font-size="37.2">0.00000</text></g>
<g transform="translate(132.03,341.52) scale(1,1.045)"><text font-size="37.2">0.00001</text><rect x="115.12" y="-4.80" width="7.34" height="5.70" fill="#fff"/><rect x="127.57" y="-4.80" width="6.87" height="5.70" fill="#fff"/></g>
<text x="108.8" y="343.92" font-size="35">−</text>
<g transform="translate(132.03,465.24) scale(1,1.045)"><text font-size="37.2">0.00002</text></g>
<text x="108.8" y="467.64" font-size="35">−</text>
<g transform="translate(132.03,588.96) scale(1,1.045)"><text font-size="37.2">0.00003</text></g>
<text x="108.8" y="591.36" font-size="35">−</text>
<g transform="translate(132.03,712.68) scale(1,1.045)"><text font-size="37.2">0.00004</text></g>
<text x="108.8" y="715.08" font-size="35">−</text>
<g transform="translate(298.89,802.80) scale(1,1.045)"><text font-size="37.2">1.816</text><rect x="1.34" y="-4.80" width="7.34" height="5.70" fill="#fff"/><rect x="13.79" y="-4.80" width="6.87" height="5.70" fill="#fff"/><rect x="53.06" y="-4.80" width="7.34" height="5.70" fill="#fff"/><rect x="65.50" y="-4.80" width="6.87" height="5.70" fill="#fff"/></g>
<g transform="translate(439.97,802.80) scale(1,1.045)"><text font-size="37.2">1.818</text><rect x="1.34" y="-4.80" width="7.34" height="5.70" fill="#fff"/><rect x="13.79" y="-4.80" width="6.87" height="5.70" fill="#fff"/><rect x="53.06" y="-4.80" width="7.34" height="5.70" fill="#fff"/><rect x="65.50" y="-4.80" width="6.87" height="5.70" fill="#fff"/></g>
<g transform="translate(581.05,802.80) scale(1,1.045)"><text font-size="37.2">1.820</text><rect x="1.34" y="-4.80" width="7.34" height="5.70" fill="#fff"/><rect x="13.79" y="-4.80" width="6.87" height="5.70" fill="#fff"/></g>
<g transform="translate(722.13,802.80) scale(1,1.045)"><text font-size="37.2">1.822</text><rect x="1.34" y="-4.80" width="7.34" height="5.70" fill="#fff"/><rect x="13.79" y="-4.80" width="6.87" height="5.70" fill="#fff"/></g>
<g transform="translate(863.21,802.80) scale(1,1.045)"><text font-size="37.2">1.824</text><rect x="1.34" y="-4.80" width="7.34" height="5.70" fill="#fff"/><rect x="13.79" y="-4.80" width="6.87" height="5.70" fill="#fff"/></g>
</g>
<g fill="#000" style="filter:grayscale(1)">
<text x="-0.65" y="424.7" font-size="47">m</text>
<g transform="translate(49.3,424.7) scale(0.9,1)"><text x="-8.59" font-size="45">(</text></g>
<text x="57.85" y="424.7" font-size="47" font-style="italic">r</text>
<g transform="translate(86.4,424.7) scale(0.9,1)"><text x="-6.39" font-size="45">)</text></g>
<text x="618.3" y="867.6" font-size="47.5">r</text>
<text x="830.9" y="414.2" font-size="35" font-style="italic">ϵ</text>
<text x="848.3" y="416.8" font-size="35">=</text>
<g transform="translate(869.00,414.50) scale(1,1.045)"><text font-size="37.2">0</text></g>
<text x="830.9" y="487.2" font-size="35" font-style="italic">ϵ</text>
<text x="848.3" y="489.8" font-size="35">=</text>
<g transform="translate(869.50,487.50) scale(1,1.045)"><text font-size="37.2">1</text><rect x="1.34" y="-4.80" width="7.34" height="5.70" fill="#fff"/><rect x="13.79" y="-4.80" width="6.87" height="5.70" fill="#fff"/></g>
<g transform="translate(889.60,487.50) scale(1,1.045)"><text font-size="37.2">0</text></g>
<g transform="translate(910.60,471.00) scale(1,1.045)"><text font-size="23.4">−</text></g>
<g transform="translate(924.07,471.80) scale(1,1.045)"><text font-size="25.8">6</text></g>
<text x="830.9" y="560.0" font-size="35" font-style="italic">ϵ</text>
<text x="848.3" y="562.6" font-size="35">=</text>
<g transform="translate(869.0,550.60) scale(1,1.35)"><text y="11.64" font-size="35">−</text></g>
<g transform="translate(890.10,560.30) scale(1,1.045)"><text font-size="37.2">1</text><rect x="1.34" y="-4.80" width="7.34" height="5.70" fill="#fff"/><rect x="13.79" y="-4.80" width="6.87" height="5.70" fill="#fff"/></g>
<g transform="translate(910.20,560.30) scale(1,1.045)"><text font-size="37.2">0</text></g>
<g transform="translate(931.20,543.80) scale(1,1.045)"><text font-size="23.4">−</text></g>
<g transform="translate(944.67,544.60) scale(1,1.045)"><text font-size="25.8">6</text></g>
<text x="830.9" y="632.3" font-size="35" font-style="italic">ϵ</text>
<text x="848.3" y="634.9" font-size="35">=</text>
<g transform="translate(869.50,632.60) scale(1,1.045)"><text font-size="37.2">1</text><rect x="1.34" y="-4.80" width="7.34" height="5.70" fill="#fff"/><rect x="13.79" y="-4.80" width="6.87" height="5.70" fill="#fff"/></g>
<g transform="translate(889.60,632.60) scale(1,1.045)"><text font-size="37.2">0</text></g>
<g transform="translate(910.60,616.10) scale(1,1.045)"><text font-size="23.4">−</text></g>
<g transform="translate(924.07,616.90) scale(1,1.045)"><text font-size="25.8">5</text></g>
<text x="830.9" y="704.5" font-size="35" font-style="italic">ϵ</text>
<text x="848.3" y="707.1" font-size="35">=</text>
<g transform="translate(869.0,695.10) scale(1,1.35)"><text y="11.64" font-size="35">−</text></g>
<g transform="translate(890.10,704.80) scale(1,1.045)"><text font-size="37.2">1</text><rect x="1.34" y="-4.80" width="7.34" height="5.70" fill="#fff"/><rect x="13.79" y="-4.80" width="6.87" height="5.70" fill="#fff"/></g>
<g transform="translate(910.20,704.80) scale(1,1.045)"><text font-size="37.2">0</text></g>
<g transform="translate(931.20,688.30) scale(1,1.045)"><text font-size="23.4">−</text></g>
<g transform="translate(944.67,689.10) scale(1,1.045)"><text font-size="25.8">5</text></g>
</g>
<line x1="716.3" x2="810.3" y1="402.3" y2="402.3" stroke="#f00" stroke-width="5"/>
<line x1="718.3" x2="810.3" y1="475.4" y2="475.4" stroke="#00f" stroke-width="5" stroke-dasharray="8.4 15.9"/>
<line x1="718.3" x2="810.3" y1="548" y2="548" stroke="#00f" stroke-width="5" stroke-dasharray="2.5 16"/>
<line x1="718.3" x2="810.3" y1="620.1" y2="620.1" stroke="#000" stroke-width="5" stroke-dasharray="8.5 31.8"/>
<line x1="718.3" x2="810.3" y1="692.7" y2="692.7" stroke="#000" stroke-width="5" stroke-dasharray="2.5 31.9"/>
</svg>
</body></html>
